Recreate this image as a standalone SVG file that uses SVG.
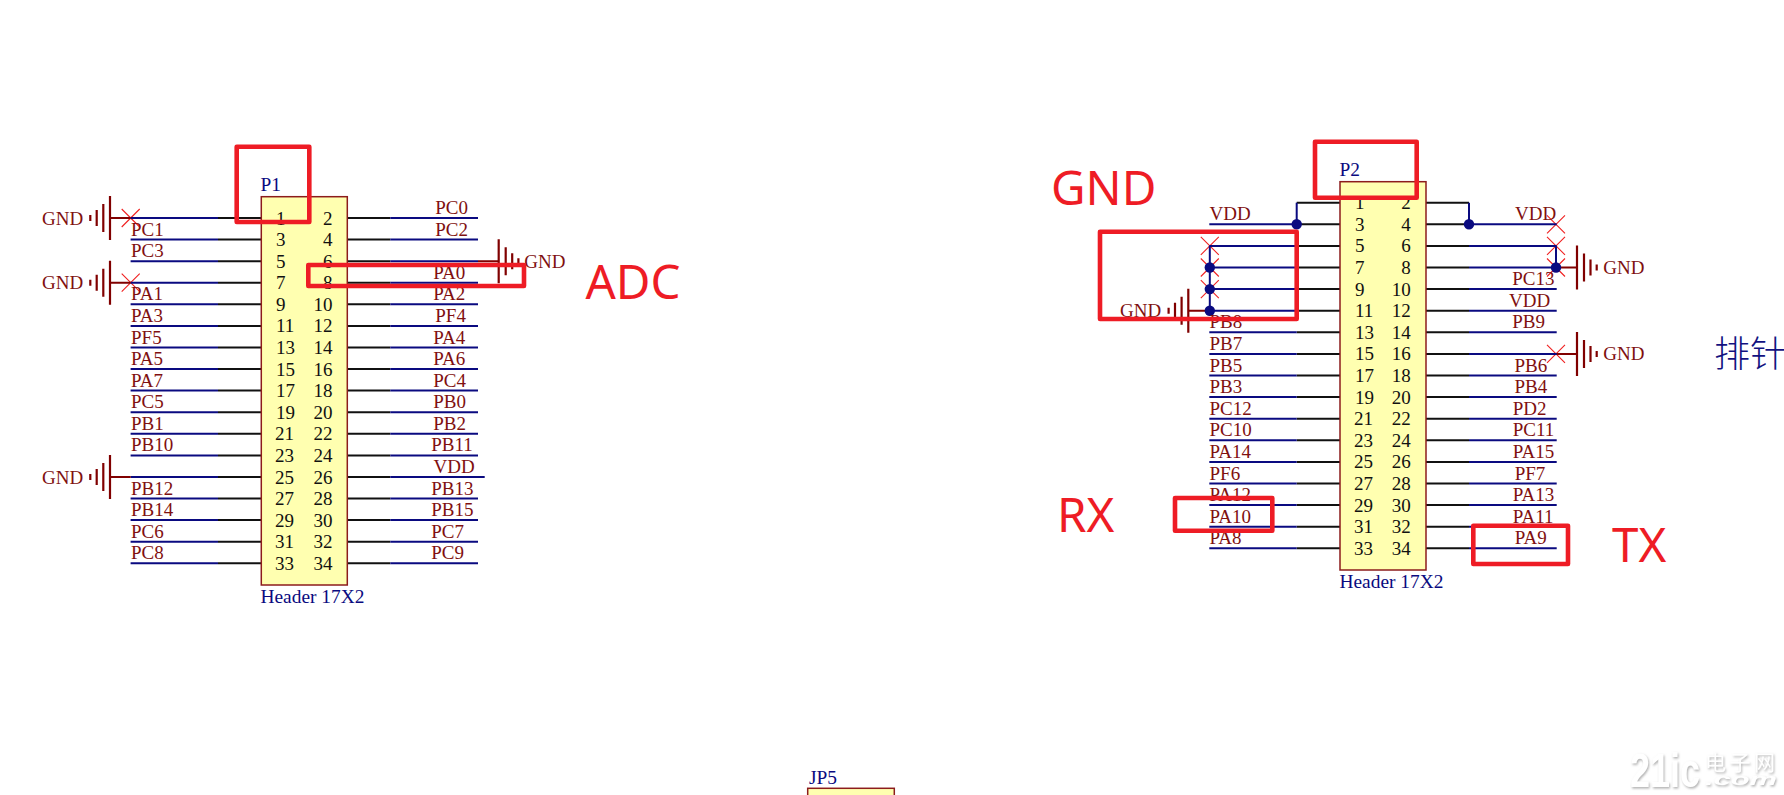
<svg xmlns="http://www.w3.org/2000/svg" width="1784" height="795" viewBox="0 0 1784 795">
<style>
text{font-family:"Liberation Serif","Times New Roman",serif;font-size:19px}
.lab{fill:#7f1010}
.pin{fill:#111}
.des{fill:#0a0a80;font-size:19.400px}
.r{text-anchor:end}
.body{fill:#ffffb0;stroke:#8c1c1c;stroke-width:1.5}
.bk{stroke:#111;stroke-width:2;fill:none}
.bl{stroke:#0a0a80;stroke-width:2;fill:none}
.rd{stroke:#800000;stroke-width:2;fill:none}
.g{stroke:#800000;stroke-width:2.200;fill:none}
.x{stroke:#f02020;stroke-width:1.100;fill:none}
.box{fill:none;stroke:#ee1c25;stroke-width:4.600;stroke-linejoin:round}
.big{font-family:"Noto Sans","Open Sans",sans-serif;fill:#ee1c25;font-size:47.500px}
.dot{fill:#0a0a80}
</style>
<defs>
<g id="gndL"><path class="g" d="M0-22V22M-6.700-14V14M-13.300-8V8M-19.700-3V3"/></g>
<g id="gndR"><path class="g" d="M0-22V22M7-14V14M13.500-8V8M19.700-3V3"/></g>
<path id="xm" class="x" d="M-9-9L9 9M-9 9L9-9"/>
<g id="wL"><path class="bk" d="M0 0H-43.300"/><path class="bl" d="M-43.300 0H-130.700"/></g>
<g id="wR"><path class="bk" d="M0 0H43"/><path class="bl" d="M43 0H130.700"/></g>
<filter id="sh" x="-10%" y="-10%" width="120%" height="130%"><feDropShadow dx="1" dy="1.500" stdDeviation="1" flood-color="#b0b0b0"/></filter>
</defs>

<g id="connectors">
<g id="no-connect">
<use href="#xm" x="130.700" y="218"/><use href="#xm" x="130.700" y="282.700"/>
<use href="#xm" x="1209.800" y="245.900"/><use href="#xm" x="1209.800" y="267.500"/><use href="#xm" x="1209.800" y="289.100"/>
<use href="#xm" x="1556" y="224.300"/><use href="#xm" x="1556" y="245.900"/><use href="#xm" x="1556" y="267.500"/><use href="#xm" x="1556" y="353.900"/>
</g>
<g id="p1-wires">
<use href="#wL" x="261.300" y="218"/><use href="#wL" x="261.300" y="239.600"/><use href="#wL" x="261.300" y="261.200"/><use href="#wL" x="261.300" y="282.700"/><use href="#wL" x="261.300" y="304.300"/><use href="#wL" x="261.300" y="325.900"/><use href="#wL" x="261.300" y="347.500"/><use href="#wL" x="261.300" y="369.100"/><use href="#wL" x="261.300" y="390.600"/><use href="#wL" x="261.300" y="412.200"/><use href="#wL" x="261.300" y="433.800"/><use href="#wL" x="261.300" y="455.400"/><use href="#wL" x="261.300" y="477"/><use href="#wL" x="261.300" y="498.500"/><use href="#wL" x="261.300" y="520.100"/><use href="#wL" x="261.300" y="541.700"/><use href="#wL" x="261.300" y="563.300"/>
<use href="#wR" x="347.300" y="218"/><use href="#wR" x="347.300" y="239.600"/><use href="#wR" x="347.300" y="261.200"/><use href="#wR" x="347.300" y="282.700"/><use href="#wR" x="347.300" y="304.300"/><use href="#wR" x="347.300" y="325.900"/><use href="#wR" x="347.300" y="347.500"/><use href="#wR" x="347.300" y="369.100"/><use href="#wR" x="347.300" y="390.600"/><use href="#wR" x="347.300" y="412.200"/><use href="#wR" x="347.300" y="433.800"/><use href="#wR" x="347.300" y="455.400"/><use href="#wR" x="347.300" y="477"/><use href="#wR" x="347.300" y="498.500"/><use href="#wR" x="347.300" y="520.100"/><use href="#wR" x="347.300" y="541.700"/><use href="#wR" x="347.300" y="563.300"/>
<path class="bl" d="M478 477H484.700"/>
</g>
<g id="gnd-stems">
<path class="rd" d="M110 218H130.700M110 282.700H130.700M110 477H130.700M478 261.200H498.700M1188.300 310.700H1205M1560 267.500H1577M1556 353.900H1577"/>
</g>
<g id="p2-wires">
<path class="bk" d="M1340 202.700H1296.700"/><path class="bl" d="M1296.700 202.700V224.300"/>
<use href="#wL" x="1340" y="224.300"/><use href="#wL" x="1340" y="245.900"/><use href="#wL" x="1340" y="267.500"/><use href="#wL" x="1340" y="289.100"/><use href="#wL" x="1340" y="310.700"/><use href="#wL" x="1340" y="332.300"/><use href="#wL" x="1340" y="353.900"/><use href="#wL" x="1340" y="375.500"/><use href="#wL" x="1340" y="397.100"/><use href="#wL" x="1340" y="418.700"/><use href="#wL" x="1340" y="440.300"/><use href="#wL" x="1340" y="461.900"/><use href="#wL" x="1340" y="483.500"/><use href="#wL" x="1340" y="505.100"/><use href="#wL" x="1340" y="526.700"/><use href="#wL" x="1340" y="548.300"/>
<path class="bl" d="M1209.800 245.900V310.700"/>
<path class="bk" d="M1426 202.700H1469"/><path class="bl" d="M1469 202.700V224.300"/>
<use href="#wR" x="1426" y="224.300"/><use href="#wR" x="1426" y="245.900"/><use href="#wR" x="1426" y="267.500"/><use href="#wR" x="1426" y="289.100"/><use href="#wR" x="1426" y="310.700"/><use href="#wR" x="1426" y="332.300"/><use href="#wR" x="1426" y="353.900"/><use href="#wR" x="1426" y="375.500"/><use href="#wR" x="1426" y="397.100"/><use href="#wR" x="1426" y="418.700"/><use href="#wR" x="1426" y="440.300"/><use href="#wR" x="1426" y="461.900"/><use href="#wR" x="1426" y="483.500"/><use href="#wR" x="1426" y="505.100"/><use href="#wR" x="1426" y="526.700"/><use href="#wR" x="1426" y="548.300"/>
<path class="bl" d="M1556 245.900V267.500"/>
<circle class="dot" cx="1296.700" cy="224.300" r="5.200"/><circle class="dot" cx="1469" cy="224.300" r="5.200"/>
<circle class="dot" cx="1209.800" cy="267.500" r="5.200"/><circle class="dot" cx="1209.800" cy="289.100" r="5.200"/><circle class="dot" cx="1209.800" cy="310.700" r="5.200"/><circle class="dot" cx="1556" cy="267.500" r="5.200"/>
</g>
</g>

<g id="gnd-symbols">
<use href="#gndL" x="110" y="218"/><text class="lab" x="42" y="224.500">GND</text>
<use href="#gndL" x="110" y="282.700"/><text class="lab" x="42" y="289.200">GND</text>
<use href="#gndL" x="110" y="477"/><text class="lab" x="42" y="483.500">GND</text>
<use href="#gndR" x="498.700" y="261.200"/><text class="lab" x="524.300" y="267.700">GND</text>
<use href="#gndL" x="1188.300" y="310.700"/><text class="lab" x="1120" y="317.200">GND</text>
<use href="#gndR" x="1577" y="267.500"/><text class="lab" x="1603.300" y="274">GND</text>
<use href="#gndR" x="1577" y="353.900"/><text class="lab" x="1603.300" y="360.400">GND</text>
</g>

<g id="P1">
<rect class="body" x="261.300" y="196.700" width="86" height="388.300"/>
<text class="des" x="260.500" y="191">P1</text>
<text class="des" x="260.500" y="603">Header 17X2</text>
<g class="pin">
<text x="276" y="224.500">1</text><text x="276" y="246">3</text><text x="276" y="267.700">5</text><text x="276" y="289.200">7</text><text x="276" y="310.800">9</text><text x="276" y="332.400">11</text><text x="276" y="354">13</text><text x="276" y="375.600">15</text><text x="276" y="397.100">17</text><text x="276" y="418.700">19</text><text x="275" y="440.300">21</text><text x="275" y="461.900">23</text><text x="275" y="483.500">25</text><text x="275" y="505">27</text><text x="275" y="526.600">29</text><text x="275" y="548.200">31</text><text x="275" y="569.800">33</text>
<text class="r" x="332.500" y="224.500">2</text><text class="r" x="332.500" y="246">4</text><text class="r" x="332.500" y="267.700">6</text><text class="r" x="332.500" y="289.200">8</text><text class="r" x="332.500" y="310.800">10</text><text class="r" x="332.500" y="332.400">12</text><text class="r" x="332.500" y="354">14</text><text class="r" x="332.500" y="375.600">16</text><text class="r" x="332.500" y="397.100">18</text><text class="r" x="332.500" y="418.700">20</text><text class="r" x="332.500" y="440.300">22</text><text class="r" x="332.500" y="461.900">24</text><text class="r" x="332.500" y="483.500">26</text><text class="r" x="332.500" y="505">28</text><text class="r" x="332.500" y="526.600">30</text><text class="r" x="332.500" y="548.200">32</text><text class="r" x="332.500" y="569.800">34</text>
</g>
<g class="lab">
<text x="131" y="235.600">PC1</text><text x="131" y="257.200">PC3</text><text x="131" y="300.300">PA1</text><text x="131" y="321.900">PA3</text><text x="131" y="343.500">PF5</text><text x="131" y="365.100">PA5</text><text x="131" y="386.600">PA7</text><text x="131" y="408.200">PC5</text><text x="131" y="429.800">PB1</text><text x="131" y="451.400">PB10</text><text x="131" y="494.500">PB12</text><text x="131" y="516.100">PB14</text><text x="131" y="537.700">PC6</text><text x="131" y="559.300">PC8</text>
<text x="435.300" y="214">PC0</text><text x="435.300" y="235.600">PC2</text><text x="433.300" y="278.700">PA0</text><text x="433.300" y="300.300">PA2</text><text x="435.300" y="321.900">PF4</text><text x="433.300" y="343.500">PA4</text><text x="433.300" y="365.100">PA6</text><text x="433.300" y="386.600">PC4</text><text x="433.300" y="408.200">PB0</text><text x="433.300" y="429.800">PB2</text><text x="431.300" y="451.400">PB11</text><text x="433.500" y="473">VDD</text><text x="431.300" y="494.500">PB13</text><text x="431.300" y="516.100">PB15</text><text x="431.300" y="537.700">PC7</text><text x="431.300" y="559.300">PC9</text>
</g>
</g>

<g id="P2">
<rect class="body" x="1340" y="181.700" width="86" height="388.300"/>
<text class="des" x="1339.500" y="176">P2</text>
<text class="des" x="1339.500" y="588">Header 17X2</text>
<g class="pin">
<text x="1355" y="209.200">1</text><text x="1355" y="230.800">3</text><text x="1355" y="252.400">5</text><text x="1355" y="274">7</text><text x="1355" y="295.600">9</text><text x="1355" y="317.200">11</text><text x="1355" y="338.800">13</text><text x="1355" y="360.400">15</text><text x="1355" y="382">17</text><text x="1355" y="403.600">19</text><text x="1354" y="425.200">21</text><text x="1354" y="446.800">23</text><text x="1354" y="468.400">25</text><text x="1354" y="490">27</text><text x="1354" y="511.600">29</text><text x="1354" y="533.200">31</text><text x="1354" y="554.800">33</text>
<text class="r" x="1410.700" y="209.200">2</text><text class="r" x="1410.700" y="230.800">4</text><text class="r" x="1410.700" y="252.400">6</text><text class="r" x="1410.700" y="274">8</text><text class="r" x="1410.700" y="295.600">10</text><text class="r" x="1410.700" y="317.200">12</text><text class="r" x="1410.700" y="338.800">14</text><text class="r" x="1410.700" y="360.400">16</text><text class="r" x="1410.700" y="382">18</text><text class="r" x="1410.700" y="403.600">20</text><text class="r" x="1410.700" y="425.200">22</text><text class="r" x="1410.700" y="446.800">24</text><text class="r" x="1410.700" y="468.400">26</text><text class="r" x="1410.700" y="490">28</text><text class="r" x="1410.700" y="511.600">30</text><text class="r" x="1410.700" y="533.200">32</text><text class="r" x="1410.700" y="554.800">34</text>
</g>
<g class="lab">
<text x="1209.500" y="220.300">VDD</text><text x="1209.500" y="328.300">PB8</text><text x="1209.500" y="349.900">PB7</text><text x="1209.500" y="371.500">PB5</text><text x="1209.500" y="393.100">PB3</text><text x="1209.500" y="414.700">PC12</text><text x="1209.500" y="436.300">PC10</text><text x="1209.500" y="457.900">PA14</text><text x="1209.500" y="479.500">PF6</text><text x="1209.500" y="501.100">PA12</text><text x="1209.500" y="522.700">PA10</text><text x="1209.500" y="544.300">PA8</text>
<text x="1515" y="220.300">VDD</text><text x="1512.300" y="285.100">PC13</text><text x="1509" y="306.700">VDD</text><text x="1512.300" y="328.300">PB9</text><text x="1514.500" y="371.500">PB6</text><text x="1514.500" y="393.100">PB4</text><text x="1512.700" y="414.700">PD2</text><text x="1512.700" y="436.300">PC11</text><text x="1512.700" y="457.900">PA15</text><text x="1514.700" y="479.500">PF7</text><text x="1512.700" y="501.100">PA13</text><text x="1512.700" y="522.700">PA11</text><text x="1514.700" y="544.300">PA9</text>
</g>
</g>

<g id="JP5">
<rect class="body" x="807.700" y="788.300" width="86.600" height="20"/>
<text class="des" x="809" y="784">JP5</text>
</g>

<g id="annotations">
<rect class="box" x="236.700" y="146.700" width="72.600" height="75.300"/>
<rect class="box" x="308.300" y="265" width="215.700" height="21"/>
<rect class="box" x="1315" y="141.700" width="101.700" height="56"/>
<rect class="box" x="1100" y="231.700" width="196.700" height="87.300"/>
<rect class="box" x="1175" y="498" width="97.300" height="32.700"/>
<rect class="box" x="1473.300" y="525.700" width="94.700" height="38.300"/>
<text class="big" x="585.500" y="299">ADC</text>
<text class="big" x="1051" y="205">GND</text>
<text class="big" x="1057" y="532">RX</text>
<text class="big" x="1612" y="562">TX</text>
<text x="1714" y="367" style="font-family:'Noto Sans CJK SC',sans-serif;font-size:36px;font-weight:300;fill:#12127f">排针</text>
</g>

<g id="watermark" filter="url(#sh)" style="fill:#fff">
<text x="1630" y="787" textLength="70" lengthAdjust="spacingAndGlyphs" style="font-family:'Liberation Sans',sans-serif;font-size:48px;font-weight:700">21ic</text>
<text x="1705" y="770" textLength="70" style="font-family:'Noto Sans CJK SC',sans-serif;font-size:21px">电子网</text>
<text x="1705" y="785" textLength="72" lengthAdjust="spacingAndGlyphs" style="font-family:'Liberation Sans',sans-serif;font-size:17px;font-style:italic;font-weight:700">.com</text>
</g>
</svg>
